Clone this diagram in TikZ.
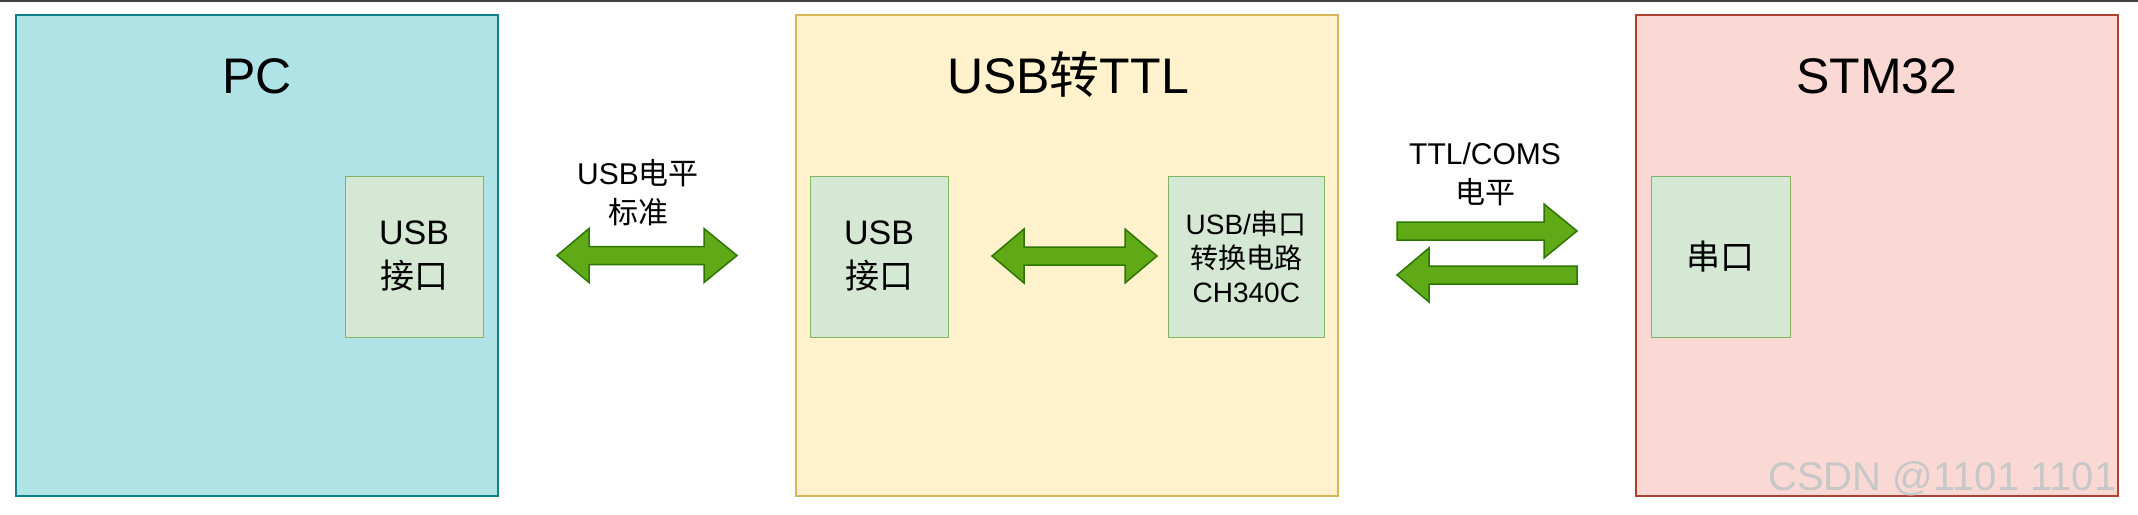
\documentclass[tikz,border=0pt]{standalone}
\usepackage{fontspec}
\setmainfont{Liberation Sans}
\newfontfamily\cjk{Noto Sans CJK SC}
\newcommand\zh[1]{{\cjk #1}}
\definecolor{pcfill}{HTML}{B0E3E6}
\definecolor{pcdraw}{HTML}{0E8088}
\definecolor{ttlfill}{HTML}{FFF2CC}
\definecolor{ttldraw}{HTML}{D6B656}
\definecolor{stmfill}{HTML}{FAD9D5}
\definecolor{stmdraw}{HTML}{AE4132}
\definecolor{infill}{HTML}{D5E8D4}
\definecolor{indraw}{HTML}{82B366}
\definecolor{arfill}{HTML}{60A917}
\definecolor{ardraw}{HTML}{2D7600}
\begin{document}
\begin{tikzpicture}[x=1pt,y=-1pt,
  outer/.style={draw, line width=2pt, minimum height=481pt, inner sep=0pt},
  inner/.style={draw=indraw, fill=infill, line width=1pt, minimum height=161pt, inner sep=0pt, align=center},
  title/.style={anchor=base, font=\fontsize{50}{60}\selectfont},
  big/.style={font=\fontsize{34}{44}\selectfont},
  small/.style={font=\fontsize{28}{34}\selectfont},
  lbl/.style={align=center, font=\fontsize{30}{39}\selectfont},
  fat/.style={draw=ardraw, fill=arfill, line width=1.5pt, line join=miter}]
\useasboundingbox (0,0) rectangle (2138,514);
\fill[white] (0,0) rectangle (2138,514);
\draw[line width=1.5pt, black!75] (0,0.75) -- (2138,0.75);

% outer boxes
\node[outer, draw=pcdraw, fill=pcfill, minimum width=482pt] (pc) at (257,255.5) {};
\node[outer, draw=ttldraw, fill=ttlfill, minimum width=542pt] (ttl) at (1067,255.5) {};
\node[outer, draw=stmdraw, fill=stmfill, minimum width=482pt] (stm) at (1877,255.5) {};

% titles
\node[title] (pct) at (257,93) {PC};
\node[title] (ttlt) at (1068,93) {USB\zh{转}TTL};
\node[title] (stmt) at (1877,93) {STM32};

% inner boxes
\node[inner, big, minimum width=138pt] (pcusb) at (414,256.5) {USB\\\zh{接口}};
\node[inner, big, minimum width=138pt] (tusb) at (879,256.5) {USB\\\zh{接口}};
\node[inner, small, minimum width=156pt] (conv) at (1246.3,256.5) {USB/\zh{串口}\\\zh{转换电路}\\CH340C};
\node[inner, big, minimum width=139pt] (uart) at (1720.5,256.5) {\zh{串口}};

% labels
\node[lbl] (l1) at (638,192.5) {USB\zh{电平}\\\zh{标准}};
\node[lbl] (l2) at (1485,174) {TTL/COMS\\\zh{电平}};

% fat arrows
\draw[fat] (557,255.5) -- (589,228.5) -- (589,246.5) -- (704,246.5) -- (704,228.5) -- (737,255.5)
  -- (704,282.5) -- (704,264.5) -- (589,264.5) -- (589,282.5) -- cycle;
\draw[fat] (992,256) -- (1024,229) -- (1024,247) -- (1125,247) -- (1125,229) -- (1157,256)
  -- (1125,283) -- (1125,265) -- (1024,265) -- (1024,283) -- cycle;
\draw[fat] (1397,222) -- (1544,222) -- (1544,204) -- (1577,231) -- (1544,258) -- (1544,240) -- (1397,240) -- cycle;
\draw[fat] (1577,266) -- (1429,266) -- (1429,248) -- (1397,275) -- (1429,302) -- (1429,284) -- (1577,284) -- cycle;

% watermark
\node[anchor=base west, text=black!22, font=\fontsize{40}{48}\selectfont, inner sep=0pt] (wm) at (1768,490) {CSDN @1101 1101};
\end{tikzpicture}
\end{document}
